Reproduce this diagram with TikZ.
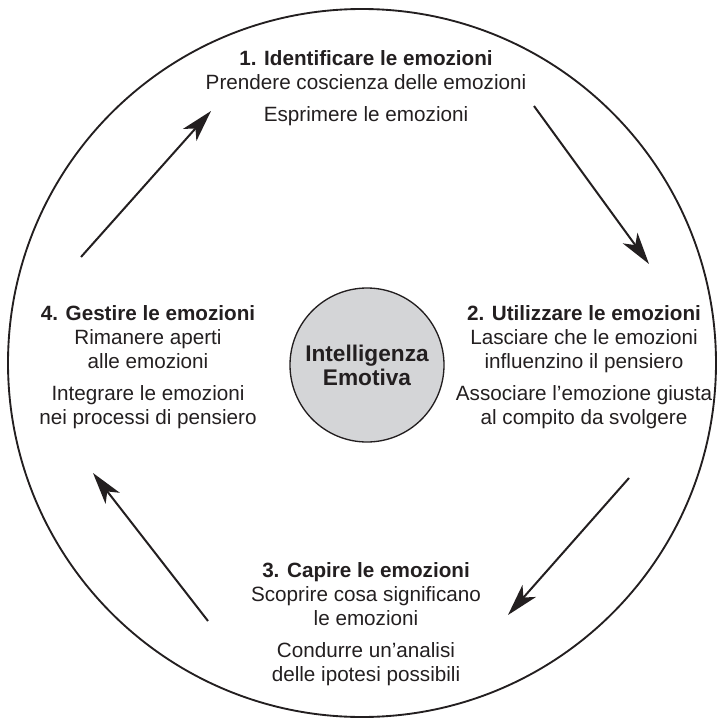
\documentclass[tikz,border=0pt]{standalone}
\usepackage{fontspec}
\setmainfont{Liberation Sans}
\usetikzlibrary{arrows.meta}
\definecolor{ink}{HTML}{231F20}
\definecolor{core}{HTML}{D4D5D7}
\begin{document}
\begin{tikzpicture}[x=0.75pt,y=-0.75pt,
  stage/.style={anchor=north, inner sep=0pt, align=center, text=ink,
    font=\fontsize{15.5}{18}\selectfont},
  flow/.style={draw=ink, line width=1.5pt,
    -{Stealth[length=24pt,width=13.5pt,inset=6.5pt]}},
]
\useasboundingbox (0,0) rectangle (717,721);

% outer ring
\coordinate (ringc) at (362,363);
\draw[ink, line width=1.4pt] (ringc) circle[radius=265.5pt];

% central disc
\node[circle, draw=ink, fill=core, line width=1pt, minimum size=115.5pt,
  inner sep=0pt, align=center, text=ink,
  font=\bfseries\fontsize{17}{18}\selectfont] (core) at (367,365)
  {Intelligenza\\Emotiva};

% the four stages
\node[stage] (s1) at (366,50)
  {\textbf{1. Identificare le emozioni}\\Prendere coscienza delle emozioni\\[6pt]Esprimere le emozioni};
\node[stage] (s2) at (584,305)
  {\textbf{2. Utilizzare le emozioni}\\Lasciare che le emozioni\\influenzino il pensiero\\[6pt]Associare l’emozione giusta\\al compito da svolgere};
\node[stage] (s3) at (366,562)
  {\textbf{3. Capire le emozioni}\\Scoprire cosa significano\\le emozioni\\[6pt]Condurre un’analisi\\delle ipotesi possibili};
\node[stage] (s4) at (148,305)
  {\textbf{4. Gestire le emozioni}\\Rimanere aperti\\alle emozioni\\[6pt]Integrare le emozioni\\nei processi di pensiero};

% cycle arrows
\coordinate (a1s) at (81,257);  \coordinate (a1e) at (211,111);
\coordinate (a2s) at (534,106); \coordinate (a2e) at (649,264);
\coordinate (a3s) at (629,478); \coordinate (a3e) at (508,615);
\coordinate (a4s) at (208,621); \coordinate (a4e) at (93,473);
\draw[flow] (a1s) -- (a1e);
\draw[flow] (a2s) -- (a2e);
\draw[flow] (a3s) -- (a3e);
\draw[flow] (a4s) -- (a4e);
\end{tikzpicture}
\end{document}
